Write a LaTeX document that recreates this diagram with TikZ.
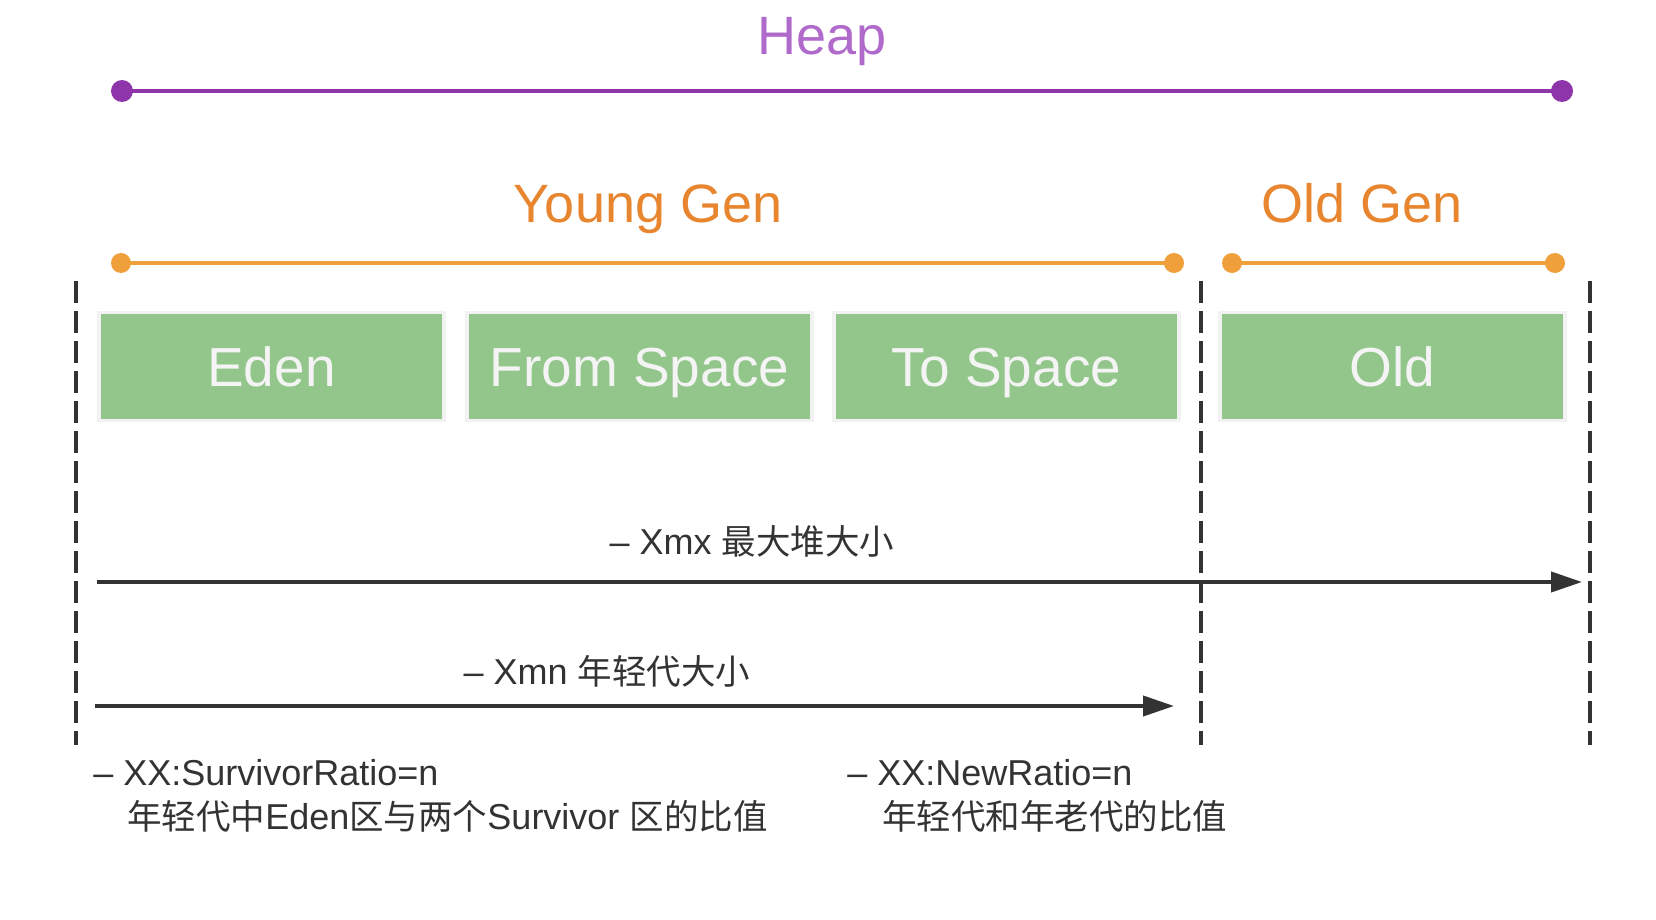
\documentclass[tikz,border=0pt]{standalone}
\usepackage{fontspec}
\setmainfont{Liberation Sans}
\newfontfamily\cjk{Noto Sans CJK SC}
\newcommand\zhtxt[1]{{\cjk\fontsize{17.25pt}{21pt}\selectfont #1}}
\usetikzlibrary{arrows.meta}
\definecolor{heapline}{HTML}{8E35AA}
\definecolor{heaptext}{HTML}{B06ACB}
\definecolor{orangetext}{HTML}{E8852F}
\definecolor{orangeline}{HTML}{F0A03A}
\definecolor{boxgreen}{HTML}{93C68B}
\definecolor{boxedge}{HTML}{F2F2F2}
\definecolor{boxtext}{HTML}{F4F4F4}
\definecolor{darkline}{HTML}{333333}
\tikzset{
  heading/.style={font=\fontsize{27pt}{32pt}\selectfont, anchor=base},
  membox/.style={draw=boxedge, line width=1.75pt, fill=boxgreen, text=boxtext,
    minimum width=172.5pt, minimum height=54pt, inner sep=0pt,
    text height=19.7pt, text depth=0pt,
    font=\fontsize{27.5pt}{32pt}\selectfont},
  spanline/.style={line width=2pt},
  divider/.style={darkline, line width=1.65pt, dash pattern=on 11pt off 4pt},
  sizearrow/.style={darkline, line width=2pt, -{Triangle[length=15.5pt,width=10pt]}},
  note/.style={text=darkline, font=\fontsize{18pt}{21pt}\selectfont, anchor=base west, inner sep=0pt},
  sizelabel/.style={text=darkline, font=\fontsize{18pt}{21pt}\selectfont, anchor=base, inner sep=0pt}
}
\begin{document}
\begin{tikzpicture}[x=0.5pt,y=-0.5pt]
\useasboundingbox[fill=white] (0,0) rectangle (1656,920);

% Heap
\node[heading, text=heaptext] (heap) at (822,55) {Heap};
\coordinate (h1) at (122,91);
\coordinate (h2) at (1562,91);
\draw[spanline, heapline] (h1) -- (h2);
\fill[heapline] (h1) circle (5.5pt) (h2) circle (5.5pt);

% Young Gen / Old Gen
\node[heading, text=orangetext] (young) at (648,222) {Young Gen};
\node[heading, text=orangetext] (oldgen) at (1362,222) {Old Gen};
\coordinate (y1) at (121,263);
\coordinate (y2) at (1174,263);
\coordinate (o1) at (1232,263);
\coordinate (o2) at (1555,263);
\draw[spanline, orangeline] (y1) -- (y2);
\draw[spanline, orangeline] (o1) -- (o2);
\fill[orangeline] (y1) circle (5pt) (y2) circle (5pt) (o1) circle (5pt) (o2) circle (5pt);

% dividers
\coordinate (d1t) at (76,281);   \coordinate (d1b) at (76,745);
\coordinate (d2t) at (1201,281); \coordinate (d2b) at (1201,745);
\coordinate (d3t) at (1590,281); \coordinate (d3b) at (1590,745);
\draw[divider] (d1t) -- (d1b);
\draw[divider] (d2t) -- (d2b);
\draw[divider] (d3t) -- (d3b);

% boxes
\node[membox] (eden) at (271.5,366.5) {Eden};
\node[membox] (from) at (639.5,366.5) {From Space};
\node[membox] (to) at (1006.5,366.5) {To Space};
\node[membox] (old) at (1392.5,366.5) {Old};

% size arrows
\node[sizelabel] (xmxl) at (752,554) {– Xmx \zhtxt{最大堆大小}};
\coordinate (xmxs) at (97,582);
\coordinate (xmxe) at (1582,582);
\draw[sizearrow] (xmxs) -- (xmxe);

\node[sizelabel] (xmnl) at (607,684) {– Xmn \zhtxt{年轻代大小}};
\coordinate (xmns) at (95,706);
\coordinate (xmne) at (1174,706);
\draw[sizearrow] (xmns) -- (xmne);

% notes
\node[note] (sr1) at (93,785) {– XX:SurvivorRatio=n};
\node[note] (sr2) at (127,829) {\zhtxt{年轻代中}Eden\zhtxt{区与两个}Survivor \zhtxt{区的比值}};
\node[note] (nr1) at (847,785) {– XX:NewRatio=n};
\node[note] (nr2) at (882,829) {\zhtxt{年轻代和年老代的比值}};
\end{tikzpicture}
\end{document}
